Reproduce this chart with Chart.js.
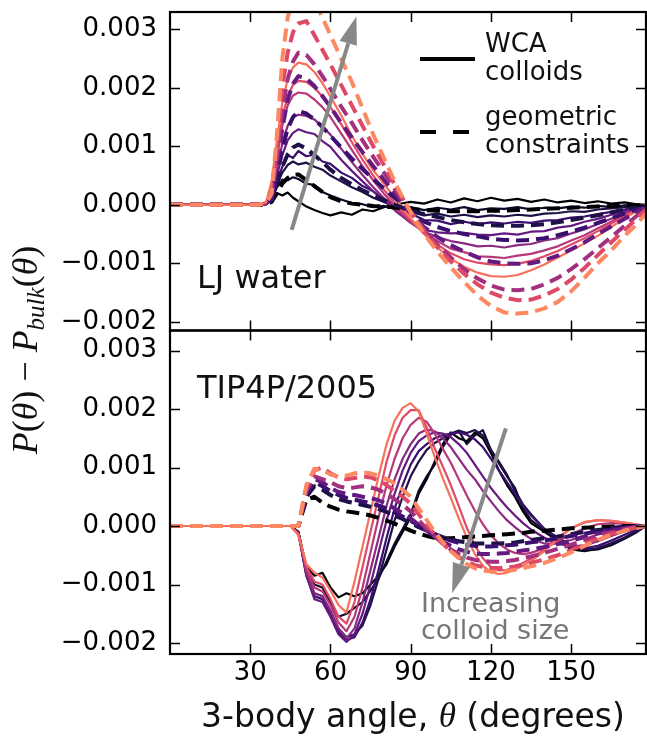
<!DOCTYPE html>
<html lang="en">
<head>
<meta charset="UTF-8">
<script src="https://cdn.jsdelivr.net/npm/chart.js@4.4.0/dist/chart.umd.min.js"></script>
<title>3-body angle distributions</title>
<style>
  body { margin: 0; background: #fff; }
</style>
</head>
<body>
<canvas id="chart" width="647" height="736"></canvas>
<script>
// tick values
const X_TICKS = [30, 60, 90, 120, 150];
const Y_TICKS = [-0.002, -0.001, 0, 0.001, 0.002, 0.003];

// all curve values below are in units of 1e-4
const UNIT = 1e-4;

// LJ water panel (top)
const ljAngle = [0, 33, 36, 38, 40, 42, 44, 46, 48, 51, 54, 57, 60, 64, 68, 72, 76, 80, 85, 90, 95, 100, 105, 110, 115, 120, 125, 130, 135, 140, 145, 150, 155, 160, 165, 170, 174, 178];

// WCA colloids, smallest -> largest
const ljWCA = [
  [0,0,0.3,1.2,2,1.6,2.1,1.2,0.6,-0.3,-0.9,-1.4,-1.8,-1.3,-1.7,-0.8,-1.1,-0.4,0.1,0.5,0.2,0.9,0.4,1.1,0.6,1.2,0.7,1,0.5,0.9,0.4,0.7,0.3,0.6,0.2,0.4,0.1,0],
  [0,0,0.1,1,3,4.3,4.2,4.7,4.4,3.6,3.4,2.2,1.6,0.9,0.3,0.1,-0.4,-0.2,-0.7,-0.4,-0.9,-0.5,-0.8,-0.4,-0.9,-0.6,-0.7,-0.4,-0.8,-0.5,-0.6,-0.3,-0.5,-0.2,-0.4,-0.1,-0.1,0],
  [0,0,0.1,1,3.5,5.5,6.8,7.4,6.9,7.2,6.5,6,5,4,3,2.2,1.2,0.5,-0.5,-1.2,-1.8,-1.5,-2,-1.7,-2.1,-1.8,-2,-1.7,-1.9,-1.5,-1.4,-1.1,-1.2,-0.8,-0.6,-0.4,-0.2,0],
  [0,0,0.1,1,4,6.5,8.5,8,9.2,8.3,8.6,7.4,7,5.5,4.6,3.2,2.3,1,-0.3,-1.5,-2.6,-2.7,-3.3,-2.9,-3.3,-3,-3.2,-2.9,-3.1,-2.7,-2.6,-2.2,-2,-1.6,-1.2,-0.8,-0.4,0],
  [0,0,0.2,1.5,5,8.5,11,12.3,12.9,12.4,12.1,10.9,9.9,7.7,5.8,4,2.3,0.8,-1.3,-3,-4.3,-4.7,-4.9,-4.8,-5.1,-5.2,-4.9,-5.1,-4.6,-4.5,-3.9,-3.6,-2.9,-2.4,-1.7,-1.1,-0.6,0],
  [0,0,0.2,2,6,10.5,13.5,15,15.4,15.2,14.6,13.3,12,9.6,7.3,5.1,3,1.1,-1.2,-3.1,-4.6,-5.5,-6.2,-6.6,-7.1,-7,-7.3,-6.9,-6.7,-6.1,-5.7,-4.9,-4.2,-3.3,-2.4,-1.5,-0.8,0],
  [0,0,0.3,2.5,8,13.5,17,18.7,19.2,19,18,16.7,15,12.2,9.4,6.6,4.2,1.9,-0.7,-2.9,-4.8,-6.2,-7.5,-8.1,-8.8,-8.9,-9.1,-8.7,-8.4,-7.8,-7.1,-6.1,-5.2,-4,-2.9,-1.8,-0.9,0],
  [0,0,0.4,3,9,15,18.5,20.5,21.2,21,20,18.5,16.7,13.8,10.7,7.7,5,2.6,-0.2,-2.6,-4.9,-6.8,-8.3,-9.3,-9.9,-10.2,-10.3,-10.1,-9.6,-8.8,-7.9,-6.8,-5.7,-4.5,-3.2,-1.9,-1,0],
  [0,0,0.5,4,11,17.5,21.5,23.5,24.3,24,22.7,20.8,18.5,15.3,11.8,8.7,5.9,3.6,0.6,-2.3,-5,-7.3,-9.2,-10.6,-11.6,-12.2,-12.3,-12,-11.2,-10.2,-9,-7.8,-6.6,-5.3,-3.8,-2.3,-1.2,0]
];

// geometric constraints, smallest -> largest
const ljGeom = [
  [0,0,0,0.5,2,3.6,4.6,5.1,5.2,4.2,3.2,2.2,1.3,0.6,0.2,0,-0.2,-0.3,-0.5,-0.7,-0.9,-1,-1.1,-1.1,-1.1,-1,-1,-0.9,-0.8,-0.7,-0.6,-0.5,-0.4,-0.3,-0.2,-0.1,-0.1,0],
  [0,0,0,0.8,3.5,6.5,8.6,9.8,10.3,9.6,8.5,7.3,6,4.6,3.5,2.5,1.6,0.8,-0.2,-1,-1.6,-2.1,-2.6,-3,-3.3,-3.5,-3.6,-3.6,-3.5,-3.3,-3,-2.6,-2.2,-1.8,-1.3,-0.8,-0.5,-0.2],
  [0,0,0,1,5,9.5,13,15,16,15.6,14.6,13.3,11.8,9.8,7.9,6.1,4.4,2.8,0.8,-1.3,-2.9,-3.8,-4.5,-5,-5.4,-5.8,-6,-6.1,-6,-5.7,-5.2,-4.6,-3.9,-3.1,-2.3,-1.5,-0.9,-0.3],
  [0,0,0.2,1.5,7,13,18,20.7,22,21.6,20.3,18.6,16.7,14,11.5,9,6.6,4.3,1.4,-1.4,-3.8,-5.5,-6.9,-8,-9,-9.7,-10,-10.1,-10,-9.5,-8.7,-7.6,-6.4,-5,-3.7,-2.4,-1.4,-0.4],
  [0,0,0.2,2,8,16,21.5,24.5,26,25.6,24,22,19.8,16.8,14,11,8.2,5.5,2,-1.2,-4.2,-6.8,-9,-11,-12.6,-13.8,-14.5,-14.6,-14.4,-13.6,-12.5,-11,-9.3,-7.4,-5.5,-3.6,-2.1,-0.6],
  [0,0,0.3,2,10,20,26,29.5,31,31.4,29,26.5,24,20.5,17,13.5,10,6.8,2.6,-1.2,-4.5,-7.3,-9.7,-11.8,-13.6,-15,-15.9,-16.3,-16.2,-15.5,-14.4,-12.8,-10.8,-8.6,-6.4,-4.3,-2.6,-0.8],
  [0,0,0.3,2,12,25,32,35.5,37,36.8,35,32,29,25,21,16.5,12,8,3,-1.3,-5,-8,-10.7,-13.2,-15.5,-17.3,-18.4,-18.6,-18.4,-17.7,-16.6,-14.8,-12.5,-10,-7.8,-5.3,-3.6,-1.5]
];

// TIP4P/2005 panel (bottom)
const tipAngle = [0, 45, 48, 51, 54, 57, 60, 63, 66, 69, 72, 75, 78, 81, 84, 87, 90, 93, 96, 99, 102, 105, 108, 111, 114, 117, 120, 123, 126, 129, 132, 135, 140, 145, 150, 155, 160, 165, 170, 174, 178];

const tipWCA = [
  [0,0,-1,-7,-8.5,-8,-10.5,-12.2,-11.5,-12, -11.5,-10,-8.5,-6.5,-3.5,-1,1.5,5.5,8,11, 14,16,15,14.5,16,15,12.5,9.5,7,5, 2.5,0.5, -1,-2.5,-4,-4.3,-3.8,-3,-2,-1,0],
  [0,0,-1,-7.5,-10,-10.5,-13,-15.5,-15,-14, -13,-11,-9,-6,-3,-0.5,2,6,8.5,10.5, 13.5,15.6,16.2,14,15.5,16.4,13,10.7,8.5,6.5, 3,1, -0.8,-2.3,-3.8,-4.2,-4,-3.3,-2.2,-1.2,0],
  [0,0,-1,-8,-11.5,-12,-14.5,-17.5,-19,-18.5, -17,-13.5,-9,-4,1,5,8.5,11,13,14.2, 15,15.8,16.3,15.9,16.4,15.5,13,11,8.8,6, 3.7,2, -0.5,-2,-3.3,-4,-3.8,-3,-2,-1,0],
  [0,0,-1.2,-8.5,-12,-12.5,-15,-18,-19.5,-19, -16.5,-12.5,-7.5,-2,3,7,10.5,12.8,14,15, 15.5,15.8,16,15.6,14.8,13.5,11.5,9.5,7.5,5.5, 3.5,1.8, -0.5,-2.3,-3.5,-3.8,-3.4,-2.5,-1.5,-0.7,0],
  [0,0,-1.2,-8.5,-12.5,-13,-15.5,-18.5,-19.8,-18.5, -15,-10,-4.5,1,5.5,9.5,12.5,14.5,15.5,16, 15.8,15.2,14,12.5,10.5,8.5,6.5,4.8,3.2,1.8, 0.5,-0.6, -2,-3,-3.5,-3.3,-2.6,-1.7,-0.9,-0.4,0],
  [0,0,-1.2,-8,-11.5,-12,-14.5,-17.5,-19.2,-17.5, -13,-7.5,-2,3.5,8,11.5,14,15.8,16.5,16.2, 15,13.5,11.5,9.6,8,6,4.2,2.5,1,-0.2, -1.3,-2.2, -3,-3,-2.4,-1.6,-0.8,-0.2,0.1,0.1,0],
  [0,0,-1.3,-7.5,-10.5,-11.2,-13.5,-16.5,-18,-15.5, -10.5,-4.5,1.5,7,11.5,15,17.3,18.5,17.8,15.8, 13.2,10.8,8,5.2,2.6,0.3,-1.6,-3,-4,-4.6, -4.8,-4.6, -3.8,-2.6,-1.4,-0.4,0.3,0.5,0.4,0.2,0],
  [0,0,-1.5,-7,-9.5,-10,-12.5,-15.5,-16.7,-13, -7,-1,5,11,15.5,18.5,19.8,19.8,16.8,13.3, 10.2,7,3.4,-0.3,-3.3,-5.5,-7,-7.6,-7.5,-7, -6.3,-5.6, -4,-2,-0.4,0.6,1,0.9,0.6,0.3,0],
  [0,0,-1.5,-6.5,-8,-8.8,-11,-13.5,-14.8,-9.5, -3.5,2.5,8.5,14,18,20.2,21,19.6,15.8,11.8, 8.2,4.8,1.3,-2,-4.8,-6.8,-7.9,-8.2,-8,-7.4, -6.8,-6, -4.3,-2.2,-0.4,0.7,1,0.9,0.6,0.3,0]
];

const tipGeom = [
  [0,0,0,4.5,5,4,3.3,2.8,2.5,2.3, 2.1,1.8,1.4,0.9,0.4,-0.2,-0.8,-1.3,-1.7,-2, -2.1,-2.1,-2,-1.9,-1.8,-1.7,-1.6,-1.5,-1.4,-1.3, -1.2,-1, -0.8,-0.6,-0.4,-0.3,-0.2,-0.1,0,0,0],
  [0,0,0,5,6.8,6.2,5.3,4.6,4.2,3.9, 3.6,3.3,2.9,2.4,1.8,1.2,0.5,-0.2,-0.8,-1.4, -1.9,-2.3,-2.6,-2.8,-3,-3,-3,-3,-2.9,-2.8, -2.6,-2.4, -2.1,-1.8,-1.4,-1,-0.7,-0.4,-0.2,-0.1,0],
  [0,0,0,5.5,7.5,6.8,6,5.3,4.8,4.5, 4.2,3.9,3.5,3,2.3,1.6,0.9,0.1,-0.7,-1.4, -2,-2.5,-2.9,-3.2,-3.4,-3.5,-3.5,-3.4,-3.3,-3.2, -3,-2.8, -2.5,-2.1,-1.7,-1.3,-0.9,-0.6,-0.3,-0.1,0],
  [0,0,0,6,8,7.5,6.5,5.8,5.5,5.3, 5,4.8,4.4,3.8,3,2.2,1.3,0.2,-0.8,-1.8, -2.7,-3.4,-4,-4.4,-4.7,-4.8,-4.8,-4.7,-4.6,-4.4, -4.2,-4, -3.6,-3.1,-2.5,-1.9,-1.3,-0.8,-0.4,-0.2,0],
  [0,0,0,6,8.5,8,7.5,6.8,6.5,6.6, 6.8,6.6,6.2,5.5,4.6,3.6,2.5,1,-0.5,-1.8, -3,-4,-4.8,-5.4,-5.8,-6,-6.1,-6.1,-6,-5.8, -5.5,-5.2, -4.6,-3.9,-3.2,-2.4,-1.6,-1,-0.5,-0.2,0],
  [0,0,0,6.5,9.5,10,9,8.3,8,8.2, 8.5,8.3,7.8,7,6,5,3.8,2,0.2,-1.5, -3,-4.3,-5.3,-6.1,-6.7,-7,-7.2,-7.2,-7.1,-6.9, -6.6,-6.3, -5.7,-5,-4.1,-3.1,-2.2,-1.4,-0.7,-0.3,0],
  [0,0,0,7,9.8,9.5,8.8,8.5,8.6,9, 9.2,9,8.6,8,7.3,6.2,5,3,1,-1, -2.8,-4.3,-5.5,-6.5,-7.2,-7.6,-7.8,-7.8,-7.7,-7.5, -7.2,-6.9, -6.3,-5.5,-4.5,-3.4,-2.4,-1.5,-0.8,-0.4,0]
];

// magma-like colours, dark -> light
const wcaColors = ['#000004', '#0d0a29', '#1f1147', '#3b0f70', '#641a80', '#8c2981', '#b73779', '#de4968', '#f7705c'];
const geomColors = ['#000004', '#1d1147', '#3b0f70', '#641a80', '#a3307e', '#de4968', '#fc8961'];

// arrow annotations, in data coordinates
const ljArrow = { from: [45.5, -0.00043], to: [69.7, 0.00322] };
const tipArrow = { from: [125.6, 0.00167], to: [105.5, -0.00115] };

const SANS = '"DejaVu Sans", sans-serif';
const SERIF = '"Liberation Serif", "DejaVu Serif", serif';

function pts(xs, ys) {
  return xs.map((x, i) => ({ x: x, y: ys[i] * UNIT }));
}

const datasets = [];
function addSeries(xs, series, colors, axis, dashed) {
  series.forEach((ys, i) => {
    datasets.push({
      data: pts(xs, ys),
      yAxisID: axis,
      borderColor: colors[i],
      borderWidth: dashed ? 4 : 2.2,
      borderDash: dashed ? [13, 7] : [],
      borderJoinStyle: 'round',
      pointRadius: 0,
      fill: false,
      tension: 0
    });
  });
}
addSeries(ljAngle, ljWCA, wcaColors, 'yTop', false);
addSeries(ljAngle, ljGeom, geomColors, 'yTop', true);
addSeries(tipAngle, tipWCA, wcaColors, 'yBot', false);
addSeries(tipAngle, tipGeom, geomColors, 'yBot', true);
// later datasets drawn on top
datasets.forEach((d, i) => { d.order = -i; });

function fmtY(v) {
  const s = Math.abs(v).toFixed(3);
  return (v < -1e-9 ? '\u2212' : '') + s;
}

function drawArrow(ctx, x0, y0, x1, y1, headLen, headW) {
  const a = Math.atan2(y1 - y0, x1 - x0);
  const bx = x1 - headLen * Math.cos(a), by = y1 - headLen * Math.sin(a);
  ctx.beginPath();
  ctx.moveTo(x0, y0);
  ctx.lineTo(bx, by);
  ctx.stroke();
  ctx.beginPath();
  ctx.moveTo(x1, y1);
  ctx.lineTo(bx + headW / 2 * Math.sin(a), by - headW / 2 * Math.cos(a));
  ctx.lineTo(bx - headW / 2 * Math.sin(a), by + headW / 2 * Math.cos(a));
  ctx.closePath();
  ctx.fill();
}

function drawParts(ctx, parts, cx, baseline) {
  let total = 0;
  parts.forEach(p => { ctx.font = p.font; p.w = ctx.measureText(p.text).width; total += p.w; });
  let x = cx - total / 2;
  parts.forEach(p => {
    ctx.font = p.font;
    ctx.fillText(p.text, x, baseline + (p.dy || 0));
    x += p.w;
  });
}

const decorations = {
  id: 'decorations',
  afterDatasetsDraw(chart) {
    const ctx = chart.ctx;
    const area = chart.chartArea;
    const xs = chart.scales.x;
    ctx.save();

    // arrows
    ctx.strokeStyle = '#888888';
    ctx.fillStyle = '#888888';
    ctx.lineWidth = 4;
    const yt = chart.scales.yTop, yb = chart.scales.yBot;
    drawArrow(ctx, xs.getPixelForValue(ljArrow.from[0]), yt.getPixelForValue(ljArrow.from[1]),
      xs.getPixelForValue(ljArrow.to[0]), yt.getPixelForValue(ljArrow.to[1]), 28, 18);
    drawArrow(ctx, xs.getPixelForValue(tipArrow.from[0]), yb.getPixelForValue(tipArrow.from[1]),
      xs.getPixelForValue(tipArrow.to[0]), yb.getPixelForValue(tipArrow.to[1]), 30, 18);

    // frames and inward ticks
    ctx.strokeStyle = '#000';
    for (const s of [yt, yb]) {
      ctx.lineWidth = 1.5;
      ctx.beginPath();
      for (const t of Y_TICKS) {
        const py = Math.round(s.getPixelForValue(t)) + 0.5;
        ctx.moveTo(area.left, py); ctx.lineTo(area.left + 10, py);
        ctx.moveTo(area.right, py); ctx.lineTo(area.right - 10, py);
      }
      for (const t of X_TICKS) {
        const px = Math.round(xs.getPixelForValue(t)) + 0.5;
        ctx.moveTo(px, s.top); ctx.lineTo(px, s.top + 10);
        ctx.moveTo(px, s.bottom); ctx.lineTo(px, s.bottom - 10);
      }
      ctx.stroke();
      ctx.lineWidth = 2.2;
      ctx.strokeRect(area.left, s.top, area.right - area.left, s.bottom - s.top);
    }

    // panel labels
    ctx.fillStyle = '#111';
    ctx.textBaseline = 'alphabetic';
    ctx.textAlign = 'left';
    ctx.font = '32px ' + SANS;
    ctx.fillText('LJ water', 197, 288);
    ctx.fillText('TIP4P/2005', 197, 398);

    // legend
    ctx.strokeStyle = '#000';
    ctx.lineWidth = 4;
    ctx.beginPath(); ctx.moveTo(420, 59); ctx.lineTo(475, 59); ctx.stroke();
    ctx.setLineDash([16, 17]);
    ctx.beginPath(); ctx.moveTo(420, 132); ctx.lineTo(475, 132); ctx.stroke();
    ctx.setLineDash([]);
    ctx.font = '26px ' + SANS;
    ctx.fillText('WCA', 485, 52);
    ctx.fillText('colloids', 485, 80);
    ctx.fillText('geometric', 485, 125);
    ctx.fillText('constraints', 485, 153);

    // arrow caption
    ctx.fillStyle = '#767676';
    ctx.font = '27px ' + SANS;
    ctx.fillText('Increasing', 421, 612);
    ctx.fillText('colloid size', 421, 639);

    // x title
    ctx.fillStyle = '#111';
    drawParts(ctx, [
      { text: '3-body angle, ', font: '33px ' + SANS },
      { text: '\u03b8', font: 'italic 35px ' + SERIF },
      { text: ' (degrees)', font: '33px ' + SANS }
    ], 413, 727);

    // y title
    ctx.save();
    ctx.translate(37, 350);
    ctx.rotate(-Math.PI / 2);
    const it = 'italic 36px ' + SERIF, up = '36px ' + SERIF;
    drawParts(ctx, [
      { text: 'P', font: it }, { text: '(', font: up }, { text: '\u03b8', font: it }, { text: ')', font: up },
      { text: ' \u2212 ', font: up },
      { text: 'P', font: it }, { text: 'bulk', font: 'italic 25px ' + SERIF, dy: 7 },
      { text: '(', font: up }, { text: '\u03b8', font: it }, { text: ')', font: up }
    ], 0, 0);
    ctx.restore();

    ctx.restore();
  }
};

const yTickFont = { family: SANS, size: 26 };
const xTickFont = { family: SANS, size: 26 };

function yAxis(min, max, weight, stackWeight) {
  return {
    type: 'linear',
    position: 'left',
    stack: 'panels',
    stackWeight: stackWeight,
    weight: weight,
    min: min,
    max: max,
    grid: { display: false, drawTicks: false },
    border: { display: false },
    afterBuildTicks: s => { s.ticks = Y_TICKS.map(v => ({ value: v })); },
    // fixed axis width; labels may overhang the panel edges like in the original
    afterFit: s => { s.width = 170; s.paddingTop = 0; s.paddingBottom = 0; },
    ticks: { font: yTickFont, color: '#000', padding: 13, autoSkip: false, callback: v => fmtY(v) }
  };
}

new Chart(document.getElementById('chart').getContext('2d'), {
  type: 'line',
  data: { datasets: datasets },
  options: {
    responsive: false,
    animation: false,
    layout: { padding: { top: 12, right: 1, left: 0, bottom: 0 } },
    plugins: { legend: { display: false }, tooltip: { enabled: false } },
    scales: {
      x: {
        type: 'linear',
        min: 0,
        max: 178,
        grid: { display: false, drawTicks: false },
        border: { display: false },
        afterBuildTicks: s => { s.ticks = X_TICKS.map(v => ({ value: v })); },
        afterFit: s => { s.height = 82; s.paddingLeft = 0; s.paddingRight = 0; },
        ticks: { font: xTickFont, color: '#000', padding: 4, maxRotation: 0, autoSkip: false }
      },
      yBot: yAxis(-0.002188, 0.003342, 1, 323),
      yTop: yAxis(-0.002149, 0.003296, 2, 318)
    }
  },
  plugins: [decorations]
});
</script>
</body>
</html>
